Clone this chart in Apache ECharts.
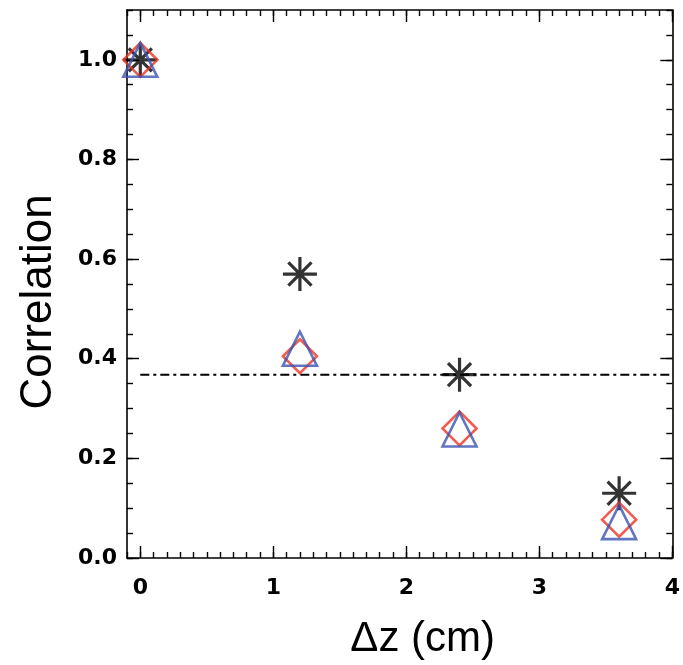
<!DOCTYPE html>
<html>
<head>
<meta charset="utf-8">
<script src="https://cdn.jsdelivr.net/npm/echarts@6/dist/echarts.min.js"></script>
<style>
  html, body { margin: 0; padding: 0; background: #fff; }
  #main { width: 683px; height: 665px; }
</style>
</head>
<body>
<div id="main"></div>
<script>
// separation between the planes (cm)
var dz = [0, 1.2, 2.4, 3.6];
// correlation for the three cases
var starVals = [1.0, 0.57, 0.368, 0.13];
var diamondVals = [1.0, 0.405, 0.26, 0.077];
var triangleVals = [1.0, 0.42, 0.258, 0.072];
// 1/e reference line
var refX = [0, 4];
var refY = 0.368;
// tick labels
var xLabels = [0, 1, 2, 3, 4];
var yLabels = [0, 0.2, 0.4, 0.6, 0.8, 1.0];

function pairs(xs, ys) {
  return xs.map(function (x, i) { return [x, ys[i]]; });
}

var black = "#000";
var tickFont = { fontFamily: "DejaVu Sans", fontSize: 22, fontWeight: "bold", color: black };

// asterisk marker: horizontal, vertical and two diagonals
var starPath = "path://M0,5L10,5M5,0L5,10M1.6,1.6L8.4,8.4M1.6,8.4L8.4,1.6";

function xAxisDef(pos, withLine, major) {
  var a = {
    type: "value",
    position: pos,
    min: -0.1,
    max: 4,
    interval: 0.1,
    axisLine: { show: withLine, onZero: false, lineStyle: { color: black, width: 1.6 } },
    axisTick: { show: true, inside: true, length: 6, lineStyle: { color: black, width: 1.4 } },
    axisLabel: { show: false },
    splitLine: { show: false }
  };
  if (major) {
    a.axisTick = { show: true, inside: true, length: 12, customValues: xLabels, lineStyle: { color: black, width: 1.4 } };
  }
  return a;
}

function yAxisDef(pos, withLine, major) {
  var a = {
    type: "value",
    position: pos,
    min: 0,
    max: 1.1,
    interval: 0.05,
    axisLine: { show: withLine, onZero: false, lineStyle: { color: black, width: 1.6 } },
    axisTick: { show: true, inside: true, length: 6, lineStyle: { color: black, width: 1.4 } },
    axisLabel: { show: false },
    splitLine: { show: false }
  };
  if (major) {
    a.axisTick = { show: true, inside: true, length: 12, customValues: yLabels, lineStyle: { color: black, width: 1.4 } };
  }
  return a;
}

var xBottom = xAxisDef("bottom", true, false);
xBottom.axisLabel = Object.assign({
  show: true,
  customValues: xLabels,
  margin: 19,
  formatter: function (v) { return String(Math.round(v)); }
}, tickFont);
xBottom.name = "\u0394z (cm)";
xBottom.nameLocation = "middle";
xBottom.nameGap = 60;
xBottom.nameTextStyle = { fontFamily: "Liberation Sans", fontSize: 42, color: black, padding: [0, 0, 0, 46] };

var yLeft = yAxisDef("left", true, false);
yLeft.axisLabel = Object.assign({
  show: true,
  customValues: yLabels,
  margin: 10,
  formatter: function (v) { return v.toFixed(1); }
}, tickFont);
yLeft.name = "Correlation";
yLeft.nameLocation = "middle";
yLeft.nameGap = 66;
yLeft.nameTextStyle = { fontFamily: "Liberation Sans", fontSize: 44, color: black, padding: [0, 36, 0, 0] };

var option = {
  animation: false,
  backgroundColor: "#fff",
  grid: { left: 127, right: 6, top: 10, bottom: 105 },
  xAxis: [
    xBottom,
    xAxisDef("bottom", false, true),
    xAxisDef("top", true, false),
    xAxisDef("top", false, true)
  ],
  yAxis: [
    yLeft,
    yAxisDef("left", false, true),
    yAxisDef("right", true, false),
    yAxisDef("right", false, true)
  ],
  series: [
    {
      name: "1/e",
      type: "line",
      data: [[refX[0], refY], [refX[1], refY]],
      showSymbol: false,
      symbol: "none",
      lineStyle: { color: black, width: 2, type: [9, 4, 3, 4] },
      z: 1
    },
    {
      name: "star",
      type: "scatter",
      data: pairs(dz, starVals),
      symbol: starPath,
      symbolSize: 34,
      itemStyle: { color: "rgba(0,0,0,0)", borderColor: black, borderWidth: 3.2 },
      z: 2
    },
    {
      name: "diamond",
      type: "scatter",
      data: pairs(dz, diamondVals),
      symbol: "diamond",
      symbolSize: [34, 34],
      itemStyle: { color: "rgba(0,0,0,0)", borderColor: "#ec3323", borderWidth: 2.6 },
      z: 3
    },
    {
      name: "triangle",
      type: "scatter",
      data: pairs(dz, triangleVals),
      symbol: "triangle",
      symbolSize: [34, 34],
      itemStyle: { color: "rgba(0,0,0,0)", borderColor: "#3b53b0", borderWidth: 2.6 },
      z: 4
    }
  ]
};

var chart = echarts.init(document.getElementById("main"));
chart.setOption(option);
</script>
</body>
</html>
